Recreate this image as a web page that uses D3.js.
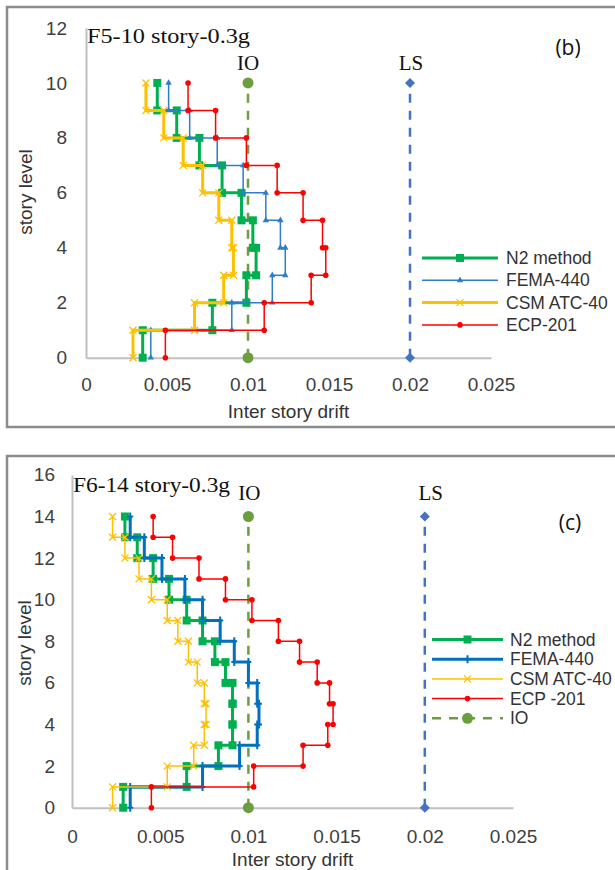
<!DOCTYPE html>
<html>
<head>
<meta charset="utf-8">
<script src="https://cdn.jsdelivr.net/npm/d3@7"></script>
<style>
  body { margin: 0; background: #fff; }
  text { font-family: "Liberation Sans", Arial, sans-serif; }
</style>
</head>
<body>
<script>
// tick values
const xTicks = [0, 0.005, 0.01, 0.015, 0.02, 0.025]
const yTicksB = [0, 2, 4, 6, 8, 10, 12]
const yTicksC = [0, 2, 4, 6, 8, 10, 12, 14, 16]

// inter story drift per story (story 1 first) - F5, 10 stories
const b_n2   = [0.0035, 0.0078, 0.0099, 0.0105, 0.0103, 0.0096, 0.0084, 0.0070, 0.0056, 0.0044]
const b_fema = [0.0040, 0.0090, 0.0115, 0.0123, 0.0120, 0.0111, 0.0097, 0.0081, 0.0064, 0.0051]
const b_csm  = [0.0029, 0.0067, 0.0085, 0.0091, 0.0090, 0.0082, 0.0072, 0.0060, 0.0048, 0.0037]
const b_ecp  = [0.0049, 0.0110, 0.0139, 0.0148, 0.0146, 0.0134, 0.0118, 0.0099, 0.0080, 0.0063]

// F6, 14 stories
const c_n2   = [0.0029, 0.0065, 0.0083, 0.0091, 0.0091, 0.0091, 0.0087, 0.0081, 0.0074, 0.0065, 0.0055, 0.0046, 0.0037, 0.0030]
const c_fema = [0.0033, 0.0074, 0.0095, 0.0105, 0.0106, 0.0105, 0.0100, 0.0092, 0.0084, 0.0074, 0.0064, 0.0051, 0.0041, 0.0033]
const c_csm  = [0.0023, 0.0054, 0.0069, 0.0075, 0.0076, 0.0075, 0.0071, 0.0066, 0.0060, 0.0054, 0.0045, 0.0038, 0.0030, 0.0023]
const c_ecp  = [0.0045, 0.0103, 0.0131, 0.0145, 0.0148, 0.0146, 0.0139, 0.0129, 0.0117, 0.0102, 0.0087, 0.0072, 0.0057, 0.0046]

// performance limits
const ioDrift = 0.01
const lsDrift = 0.02

const namesB = ['N2 method', 'FEMA-440', 'CSM ATC-40', 'ECP-201']
const namesC = ['N2 method', 'FEMA-440', 'CSM ATC-40', 'ECP -201', 'IO']

const svg = d3.select('body').append('svg')
  .attr('width', 615)
  .attr('height', 870)

svg.append('rect').attr('width', 615).attr('height', 870).attr('fill', '#fff')

let marker = (g, kind, x, y, color) => {
  if (kind === 'square') {
    g.append('rect').attr('x', x - 4).attr('y', y - 4).attr('width', 8).attr('height', 8)
      .attr('fill', color)
  } else if (kind === 'tri') {
    g.append('path').attr('d', d3.symbol(d3.symbolTriangle, 18)())
      .attr('transform', `translate(${x},${y})`).attr('fill', color)
  } else if (kind === 'plus') {
    g.append('path').attr('d', `M${x},${y - 4}V${y + 4}M${x - 3},${y}H${x + 3}`)
      .attr('stroke', color).attr('stroke-width', 2)
  } else if (kind === 'x') {
    g.append('path').attr('d', `M${x - 3.5},${y - 3.5}L${x + 3.5},${y + 3.5}M${x - 3.5},${y + 3.5}L${x + 3.5},${y - 3.5}`)
      .attr('stroke', color).attr('stroke-width', 1.3)
  } else if (kind === 'dot') {
    g.append('circle').attr('cx', x).attr('cy', y).attr('r', 2.8).attr('fill', color)
  } else if (kind === 'big') {
    g.append('circle').attr('cx', x).attr('cy', y).attr('r', 5.5).attr('fill', color)
  } else if (kind === 'diamond') {
    g.append('path').attr('d', d3.symbol(d3.symbolSquare, 50)())
      .attr('transform', `translate(${x},${y}) rotate(45)`).attr('fill', color)
  }
}

let stepPoints = vals => {
  const pts = []
  vals.forEach((v, i) => { pts.push([v, i]); pts.push([v, i + 1]) })
  return pts
}

function panel (cfg) {
  const g = svg.append('g')

  g.append('rect')
    .attr('x', 7).attr('y', cfg.frameTop)
    .attr('width', 612).attr('height', cfg.frameH)
    .attr('fill', 'none').attr('stroke', '#8c8c8c').attr('stroke-width', 2.5)

  const x = d3.scaleLinear().domain([0, 0.025]).range(cfg.xRange)
  const y = d3.scaleLinear().domain([0, cfg.yTicks[cfg.yTicks.length - 1]]).range(cfg.yRange)

  const yAxis = g.append('g')
    .attr('transform', `translate(${cfg.xRange[0]},0)`)
    .call(d3.axisLeft(y).tickValues(cfg.yTicks).tickSize(0).tickPadding(cfg.yPad))
  const xAxis = g.append('g')
    .attr('transform', `translate(0,${cfg.yRange[0]})`)
    .call(d3.axisBottom(x).tickValues(xTicks).tickSize(0).tickPadding(cfg.xPad).tickFormat(d => d))

  ;[yAxis, xAxis].forEach(a => {
    a.select('.domain').attr('stroke', '#c0c0c0').attr('stroke-width', 2)
    a.selectAll('text')
      .attr('fill', '#404040')
      .style('font-size', '19px')
      .style('font-family', '"Liberation Sans", Arial, sans-serif')
  })

  const top = cfg.n
  const line = d3.line().x(d => x(d[0])).y(d => y(d[1]))

  // IO and LS limits
  const limits = [
    { v: ioDrift, color: '#6b9e3f', kind: 'big', label: 'IO', lx: cfg.ioLabel },
    { v: lsDrift, color: '#4472c4', kind: 'diamond', label: 'LS', lx: cfg.lsLabel }
  ]
  limits.forEach(l => {
    g.append('path')
      .attr('d', line([[l.v, 0], [l.v, top]]))
      .attr('fill', 'none').attr('stroke', l.color)
      .attr('stroke-width', 2.5).attr('stroke-dasharray', '9,8')
    marker(g, l.kind, x(l.v), y(0), l.color)
    marker(g, l.kind, x(l.v), y(top), l.color)
    g.append('text')
      .attr('x', x(l.v) + l.lx[0]).attr('y', l.lx[1])
      .attr('text-anchor', 'middle')
      .style('font-family', '"Liberation Serif", "Times New Roman", serif')
      .style('font-size', '21px')
      .attr('fill', '#111')
      .text(l.label)
  })

  cfg.series.forEach(s => {
    const pts = stepPoints(s.vals)
    g.append('path')
      .attr('d', line(pts))
      .attr('fill', 'none').attr('stroke', s.color).attr('stroke-width', s.w)
    pts.forEach(p => marker(g, s.kind, x(p[0]), y(p[1]), s.color))
  })

  // title
  g.append('text')
    .attr('x', cfg.title[1]).attr('y', cfg.title[2])
    .attr('textLength', cfg.title[3]).attr('lengthAdjust', 'spacingAndGlyphs')
    .style('font-family', '"Liberation Serif", "Times New Roman", serif')
    .style('font-size', '20px')
    .attr('fill', '#111')
    .text(cfg.title[0])

  g.append('text')
    .attr('x', cfg.tag[1]).attr('y', cfg.tag[2])
    .attr('text-anchor', 'middle')
    .style('font-family', '"Open Sans", "Liberation Sans", sans-serif')
    .style('font-size', '21px')
    .attr('fill', '#111')
    .text(cfg.tag[0])

  g.append('text')
    .attr('x', (cfg.xRange[0] + cfg.xRange[1]) / 2)
    .attr('y', cfg.xTitleY)
    .attr('text-anchor', 'middle')
    .style('font-size', '19px')
    .attr('fill', '#333')
    .text('Inter story drift')

  g.append('text')
    .attr('transform', `translate(${cfg.yTitle[0]},${cfg.yTitle[1]}) rotate(-90)`)
    .attr('text-anchor', 'middle')
    .style('font-size', '19px')
    .attr('fill', '#333')
    .text('story level')

  // legend
  const lg = g.append('g')
  const items = cfg.series.map((s, i) => ({ name: cfg.names[i], color: s.color, w: s.w, kind: s.kind }))
  if (cfg.names.length > cfg.series.length) {
    items.push({ name: cfg.names[cfg.series.length], color: '#6b9e3f', w: 2.5, kind: 'big', dash: '9,8' })
  }
  items.forEach((it, i) => {
    const ly = cfg.legend.y + i * cfg.legend.dy
    lg.append('line')
      .attr('x1', cfg.legend.x0).attr('x2', cfg.legend.x1)
      .attr('y1', ly).attr('y2', ly)
      .attr('stroke', it.color).attr('stroke-width', it.w)
      .attr('stroke-dasharray', it.dash || null)
    marker(lg, it.kind, (cfg.legend.x0 + cfg.legend.x1) / 2, ly, it.color)
    lg.append('text')
      .attr('x', cfg.legend.tx).attr('y', ly).attr('dy', '0.35em')
      .style('font-size', '17.5px')
      .attr('fill', '#333')
      .text(it.name)
  })
}

panel({
  frameTop: 7, frameH: 420,
  xRange: [86, 491], yRange: [357.7, 28],
  yTicks: yTicksB, yPad: 19, xPad: 20, n: 10,
  ioLabel: [0, 70], lsLabel: [1, 70],
  title: ['F5-10 story-0.3g', 87, 43, 163],
  tag: ['(b)', 568, 55],
  xTitleY: 418,
  yTitle: [32, 192],
  names: namesB,
  legend: { x0: 422, x1: 498, tx: 506, y: 258, dy: 22.3 },
  series: [
    { vals: b_n2, color: '#00b050', w: 3, kind: 'square' },
    { vals: b_fema, color: '#2e7dc9', w: 1.5, kind: 'tri' },
    { vals: b_csm, color: '#ffc000', w: 3, kind: 'x' },
    { vals: b_ecp, color: '#ff0000', w: 1.5, kind: 'dot' }
  ]
})

panel({
  frameTop: 456, frameH: 420,
  xRange: [72, 513], yRange: [807.7, 474.9],
  yTicks: yTicksC, yPad: 17, xPad: 21.5, n: 14,
  ioLabel: [1, 500], lsLabel: [6, 500],
  title: ['F6-14 story-0.3g', 73, 492, 157],
  tag: ['(c)', 570, 530],
  xTitleY: 866,
  yTitle: [31, 643],
  names: namesC,
  legend: { x0: 432, x1: 503, tx: 510, y: 639.5, dy: 19.7 },
  series: [
    { vals: c_n2, color: '#00b050', w: 3, kind: 'square' },
    { vals: c_fema, color: '#0070c0', w: 3, kind: 'plus' },
    { vals: c_csm, color: '#ffc000', w: 1.5, kind: 'x' },
    { vals: c_ecp, color: '#ff0000', w: 1.5, kind: 'dot' }
  ]
})
</script>
</body>
</html>
